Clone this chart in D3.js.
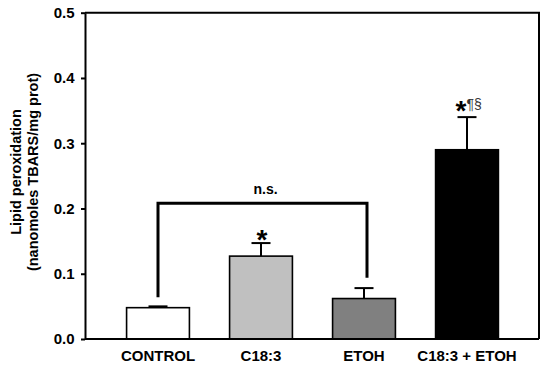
<!DOCTYPE html>
<html>
<head>
<meta charset="utf-8">
<script src="https://cdn.jsdelivr.net/npm/d3@7"></script>
<style>
  html, body { margin: 0; padding: 0; background: #fff; }
  svg { display: block; font-family: "Liberation Sans", Arial, sans-serif; }
</style>
</head>
<body>
<svg id="chart" width="550" height="369"></svg>
<script>
const categories = ["CONTROL", "C18:3", "ETOH", "C18:3 + ETOH"];
const values = [0.048, 0.127, 0.062, 0.290];
const errors = [0.002, 0.020, 0.016, 0.050];
const starMarks = ["", "*", "", "*"];
const extraMarks = ["", "", "", "¶§"];
const yTicks = [0.0, 0.1, 0.2, 0.3, 0.4, 0.5];
const bracketFrom = 0, bracketTo = 2;
const bracketY = 0.208;
const bracketLegEnds = [0.064, 0.094];
const bracketLabel = "n.s.";
const yTitle = ["Lipid peroxidation", "(nanomoles TBARS/mg prot)"];

const fills = ["#ffffff", "#c0c0c0", "#808080", "#000000"];

(function () {
const svg = d3.select("#chart");
const pLeft = 85, pRight = 539, pTop = 12.7, pBottom = 339;

const x = d3.scaleBand()
  .domain(categories)
  .range([106.5, 518.5])
  .paddingInner(0.39)
  .paddingOuter(0.195);

const y = d3.scaleLinear().domain([0, 0.5]).range([pBottom, pTop]);

// frame (top & right)
svg.append("path")
  .attr("d", `M${pLeft},${pTop}H${pRight}V${pBottom}`)
  .attr("fill", "none").attr("stroke", "#000").attr("stroke-width", 2);

// bars
svg.selectAll("rect.bar").data(categories).join("rect")
  .attr("class", "bar")
  .attr("x", d => x(d))
  .attr("width", x.bandwidth())
  .attr("y", (d, i) => y(values[i]))
  .attr("height", (d, i) => y(0) - y(values[i]))
  .attr("fill", (d, i) => fills[i])
  .attr("stroke", "#000").attr("stroke-width", 1.6);

// error bars (upper only)
const cx = d => x(d) + x.bandwidth() / 2;
const eg = svg.append("g").attr("stroke", "#000").attr("stroke-width", 2);
categories.forEach((d, i) => {
  eg.append("line").attr("x1", cx(d)).attr("x2", cx(d))
    .attr("y1", y(values[i])).attr("y2", y(values[i] + errors[i]));
  eg.append("line").attr("x1", cx(d) - 9.5).attr("x2", cx(d) + 9.5)
    .attr("y1", y(values[i] + errors[i])).attr("y2", y(values[i] + errors[i]));
});

// significance marks
categories.forEach((d, i) => {
  if (!starMarks[i] && !extraMarks[i]) return;
  const capY = y(values[i] + errors[i]);
  if (extraMarks[i]) {
    svg.append("text")
      .attr("x", cx(d) - 0.5).attr("y", capY + 2.5)
      .attr("text-anchor", "end")
      .attr("font-size", 28).attr("font-weight", "bold").attr("fill", "#000")
      .text(starMarks[i]);
    svg.append("text")
      .attr("x", cx(d) - 0.5).attr("y", capY - 8.5)
      .attr("text-anchor", "start")
      .attr("font-size", 14).attr("fill", "#333")
      .text(extraMarks[i]);
  } else {
    svg.append("text")
      .attr("x", cx(d) + 1).attr("y", capY + 5.7)
      .attr("text-anchor", "middle")
      .attr("font-size", 28).attr("font-weight", "bold").attr("fill", "#000")
      .text(starMarks[i]);
  }
});

// n.s. bracket
const bx1 = cx(categories[bracketFrom]), bx2 = cx(categories[bracketTo]) + 3;
svg.append("path")
  .attr("d", `M${bx1},${y(bracketLegEnds[0])}V${y(bracketY)}H${bx2}V${y(bracketLegEnds[1])}`)
  .attr("fill", "none").attr("stroke", "#000").attr("stroke-width", 3);
svg.append("text")
  .attr("x", (bx1 + bx2) / 2 + 3).attr("y", y(bracketY) - 9.5)
  .attr("text-anchor", "middle").attr("font-size", 14).attr("font-weight", "bold")
  .text(bracketLabel);

// y axis
const yAxis = svg.append("g").attr("transform", `translate(${pLeft},0)`)
  .call(d3.axisLeft(y).tickValues(yTicks).tickFormat(d3.format(".1f")).tickSize(4).tickSizeOuter(0));
yAxis.select(".domain").attr("stroke-width", 2);
yAxis.selectAll(".tick line").attr("stroke-width", 2);
yAxis.selectAll(".tick text").attr("font-size", 15).attr("font-weight", "bold")
  .attr("font-family", "Liberation Sans, Arial, sans-serif").attr("x", -10.5).attr("fill", "#000");

// x axis
const xAxis = svg.append("g").attr("transform", `translate(0,${pBottom})`)
  .call(d3.axisBottom(x).tickSize(0).tickSizeOuter(0));
xAxis.select(".domain").attr("d", `M${pLeft},0H${pRight}`).attr("stroke-width", 2);
xAxis.selectAll(".tick text").attr("font-size", 15).attr("font-weight", "bold")
  .attr("font-family", "Liberation Sans, Arial, sans-serif").attr("y", 11).attr("fill", "#000");

// y title
const yt = svg.append("text")
  .attr("transform", `translate(21,172) rotate(-90)`)
  .attr("text-anchor", "middle").attr("font-size", 14.5).attr("font-weight", "bold");
yt.append("tspan").attr("x", 0).attr("y", 0).text(yTitle[0]);
yt.append("tspan").attr("x", 0).attr("y", 16.5).text(yTitle[1]);
})();
</script>
</body>
</html>
